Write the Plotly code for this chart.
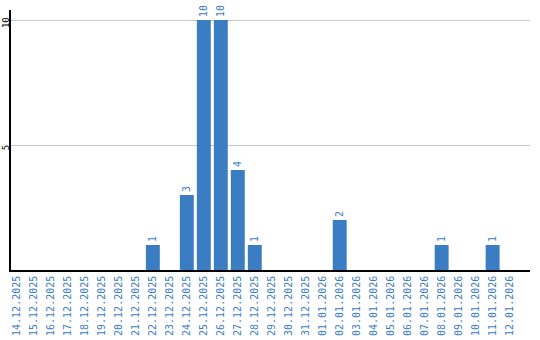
import plotly.graph_objects as go

dates = ["14.12.2025","15.12.2025","16.12.2025","17.12.2025","18.12.2025","19.12.2025",
         "20.12.2025","21.12.2025","22.12.2025","23.12.2025","24.12.2025","25.12.2025",
         "26.12.2025","27.12.2025","28.12.2025","29.12.2025","30.12.2025","31.12.2025",
         "01.01.2026","02.01.2026","03.01.2026","04.01.2026","05.01.2026","06.01.2026",
         "07.01.2026","08.01.2026","09.01.2026","10.01.2026","11.01.2026","12.01.2026"]
values = [0,0,0,0,0,0,0,0,1,0,3,10,10,4,1,0,0,0,0,2,0,0,0,0,0,1,0,0,1,0]
labels = [str(v) if v else "" for v in values]

blue = "#3b7dc2"
font = "DejaVu Sans Mono"

fig = go.Figure(go.Bar(
    x=list(range(len(dates))), y=values, text=labels,
    textposition="outside", textangle=-90, cliponaxis=False,
    textfont=dict(family=font, size=10, color=blue),
    marker=dict(color=blue, line=dict(width=0)),
))
fig.update_layout(
    width=540, height=340,
    margin=dict(l=11, r=10, t=10, b=70),
    paper_bgcolor="white", plot_bgcolor="white",
    bargap=0.18, showlegend=False,
    font=dict(family=font, size=10),
)
fig.update_xaxes(
    tickmode="array", tickvals=list(range(len(dates))), ticktext=dates,
    tickangle=-90, range=[-0.35, 30.2], showgrid=False, automargin=False,
    showline=True, linecolor="black", linewidth=1.5,
    tickfont=dict(family=font, size=10, color=blue), ticks="",
)
fig.update_yaxes(
    range=[0, 10.4], tickvals=[5, 10], tickangle=-90, automargin=False,
    ticklabelstandoff=-3, ticklabelshift=4,
    showgrid=True, gridcolor="#c8c8c8", gridwidth=1,
    showline=True, linecolor="black", linewidth=1.5, zeroline=False,
    tickfont=dict(family=font, size=9, color="black"), ticks="",
)
fig.write_html("out.html")
